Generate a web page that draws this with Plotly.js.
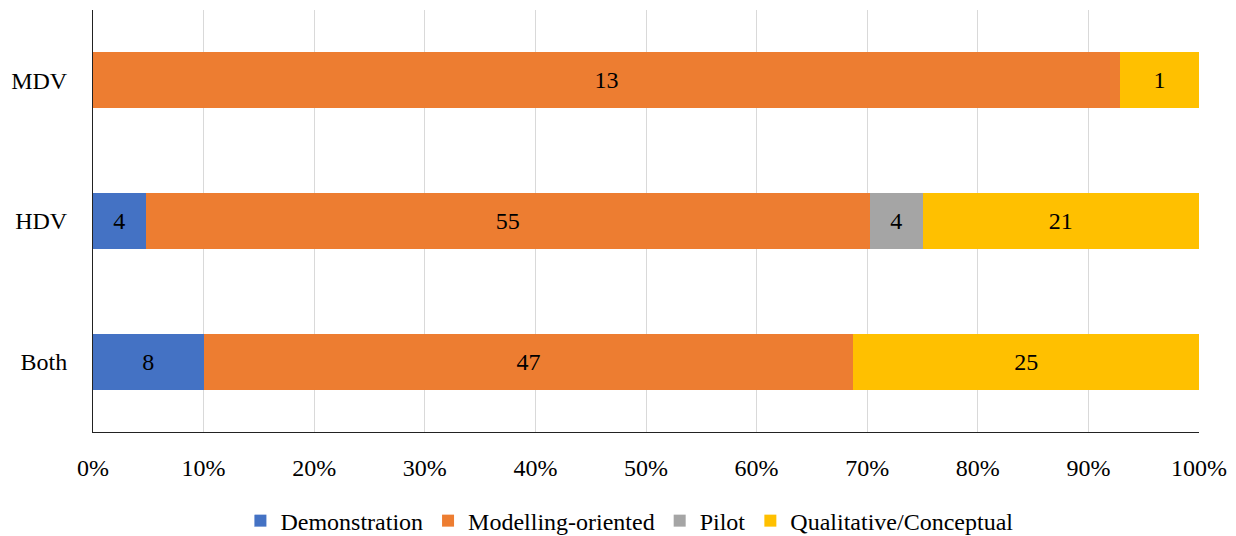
<!DOCTYPE html>
<html>
<head>
<meta charset="utf-8">
<script src="https://cdn.plot.ly/plotly-3.0.1.min.js"></script>
<style>
  html, body { margin: 0; padding: 0; background: #fff; }
  #chart { width: 1236px; height: 536px; }
</style>
</head>
<body>
<div id="chart"></div>
<script>
// Study counts per vehicle class, split by study type
const categories = ['Both', 'HDV', 'MDV'];
const demonstration = [8, 4, 0];
const modelling = [47, 55, 13];
const pilot = [0, 4, 0];
const qualitative = [25, 21, 1];

const seriesNames = ['Demonstration', 'Modelling-oriented', 'Pilot', 'Qualitative/Conceptual'];
const seriesValues = [demonstration, modelling, pilot, qualitative];
const seriesColors = ['#4472C4', '#ED7D31', '#A5A5A5', '#FFC000'];

const FONT = 'Liberation Serif, Times New Roman, serif';
const FS = 24;

const traces = seriesNames.map((name, i) => ({
  type: 'bar',
  orientation: 'h',
  name: name,
  y: categories,
  x: seriesValues[i],
  text: seriesValues[i].map(v => (v > 0 ? String(v) : '')),
  textposition: 'inside',
  insidetextanchor: 'middle',
  textangle: 0,
  constraintext: 'none',
  textfont: { family: FONT, size: FS, color: '#000' },
  marker: { color: seriesColors[i], line: { width: 0 } },
  hoverinfo: 'skip'
}));

const layout = {
  width: 1236,
  height: 536,
  margin: { l: 93, r: 37, t: 10, b: 104, autoexpand: false },
  paper_bgcolor: '#fff',
  plot_bgcolor: '#fff',
  barmode: 'stack',
  barnorm: 'percent',
  bargap: 0.6,
  font: { family: FONT, size: FS, color: '#000' },
  showlegend: true,
  legend: {
    orientation: 'h',
    x: 0.485,
    xanchor: 'center',
    y: -0.211,
    yanchor: 'middle',
    traceorder: 'normal',
    itemwidth: 30,
    font: { family: FONT, size: FS, color: '#000' },
    itemclick: false,
    itemdoubleclick: false
  },
  xaxis: {
    range: [0, 100],
    dtick: 10,
    tick0: 0,
    ticksuffix: '%',
    showgrid: true,
    gridcolor: '#d9d9d9',
    gridwidth: 1,
    zeroline: false,
    showline: true,
    linecolor: '#222',
    linewidth: 1,
    ticks: '',
    ticklabelstandoff: 14,
    tickfont: { family: FONT, size: FS, color: '#000' },
    fixedrange: true
  },
  yaxis: {
    type: 'category',
    categoryorder: 'array',
    categoryarray: categories,
    showgrid: false,
    zeroline: false,
    showline: true,
    linecolor: '#222',
    linewidth: 1,
    ticks: '',
    ticklabelstandoff: 20,
    tickfont: { family: FONT, size: FS, color: '#000' },
    fixedrange: true
  }
};

Plotly.newPlot('chart', traces, layout, { displayModeBar: false, staticPlot: true });
</script>
</body>
</html>
